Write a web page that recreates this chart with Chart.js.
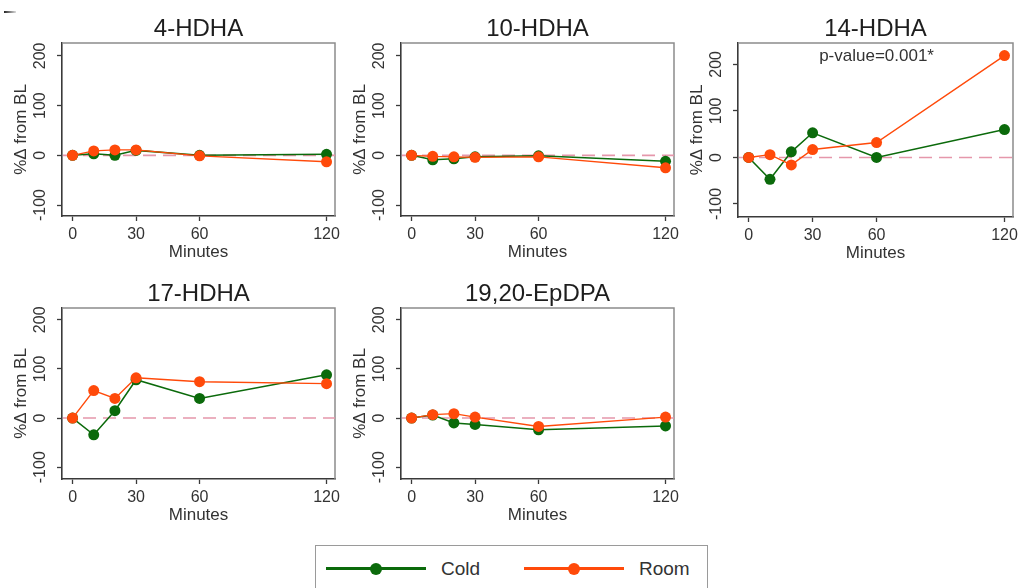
<!DOCTYPE html>
<html>
<head>
<meta charset="utf-8">
<script src="https://cdn.jsdelivr.net/npm/chart.js@4"></script>
<style>
  html, body { margin:0; padding:0; background:#fff; overflow:hidden; }
  body { width:1018px; height:588px; position:relative; font-family:'Liberation Sans', Arial, Helvetica, sans-serif; }
  canvas { position:absolute; }
  #legend { position:absolute; left:315px; top:545px; width:393px; height:60px; border:1.5px solid #9a9a9a; box-sizing:border-box; }
  .lg-line { position:absolute; height:3px; }
  .lg-dot { position:absolute; width:12px; height:12px; border-radius:50%; }
  .lg-text { position:absolute; font-size:19px; color:#333; line-height:19px; }
  #corner { position:absolute; left:4px; top:11px; width:12px; height:2px; background:linear-gradient(to right,#222,#ddd); }
</style>
</head>
<body>
<div id="corner"></div>
<canvas id="p1" width="345" height="266" style="left:0px;top:0px"></canvas>
<canvas id="p2" width="345" height="266" style="left:339px;top:0px"></canvas>
<canvas id="p3" width="347" height="267" style="left:676px;top:0px"></canvas>
<canvas id="p4" width="345" height="264" style="left:0px;top:265px"></canvas>
<canvas id="p5" width="345" height="264" style="left:339px;top:265px"></canvas>
<div id="legend"></div>
<script>
// ---- data ----
const minutes = [0, 10, 20, 30, 60, 120];
const xTicks = [0, 30, 60, 120];
const yTicks = [-100, 0, 100, 200];
const seriesNames = ['Cold', 'Room'];
const panelTitles = ['4-HDHA', '10-HDHA', '14-HDHA', '17-HDHA', '19,20-EpDPA'];

const cold_4HDHA = [0, 3, 0, 10, 0, 2];
const room_4HDHA = [0, 9, 11, 11, -1, -13];
const cold_10HDHA = [0, -9, -7, -3, -1, -12];
const room_10HDHA = [0, -2, -3, -4, -3, -25];
const cold_14HDHA = [0, -47, 12, 53, 0, 60];
const room_14HDHA = [0, 6, -16, 17, 32, 219];
const cold_17HDHA = [0, -34, 15, 78, 40, 88];
const room_17HDHA = [0, 56, 40, 82, 74, 70];
const cold_1920EpDPA = [0, 6, -10, -13, -24, -16];
const room_1920EpDPA = [0, 7, 9, 2, -17, 2];

const pValueNote = 'p-value=0.001*';

// ---- styles ----
const FONT = "'Liberation Sans', Arial, Helvetica, sans-serif";
const GREEN = '#0b6a0b';
const ORANGE = '#ff4a0a';
const AXIS = '#3a3a3a';
const FRAME = '#8c8c8c';
const ZERO = '#e597ab';

const framePlugin = {
  id: 'frameZero',
  beforeDatasetsDraw(chart, args, opts) {
    const { ctx, chartArea: a, scales } = chart;
    ctx.save();
    // light frame on top and right
    ctx.strokeStyle = FRAME; ctx.lineWidth = 1.5;
    ctx.beginPath(); ctx.moveTo(a.left, a.top); ctx.lineTo(a.right, a.top); ctx.lineTo(a.right, a.bottom); ctx.stroke();
    // dashed zero reference line
    const y0 = scales.y.getPixelForValue(0);
    ctx.strokeStyle = ZERO; ctx.lineWidth = 1.6; ctx.setLineDash([13, 7]);
    ctx.beginPath(); ctx.moveTo(a.left + 1, y0); ctx.lineTo(a.right, y0); ctx.stroke();
    ctx.setLineDash([]);
    // note
    if (opts && opts.text) {
      ctx.fillStyle = '#333'; ctx.font = '17px ' + FONT;
      ctx.textAlign = 'center'; ctx.textBaseline = 'middle';
      ctx.fillText(opts.text, scales.x.getPixelForValue(opts.x), scales.y.getPixelForValue(opts.y));
    }
    ctx.restore();
  }
};

function series(vals) { return minutes.map((m, i) => ({ x: m, y: vals[i] })); }

function makePanel(id, title, cold, room, yMin, yMax, note) {
  new Chart(document.getElementById(id), {
    type: 'line',
    data: {
      datasets: [
        { label: seriesNames[0], data: series(cold), borderColor: GREEN, backgroundColor: GREEN,
          pointBackgroundColor: GREEN, pointBorderColor: GREEN, pointRadius: 5.5, pointBorderWidth: 0,
          borderWidth: 1.5, tension: 0, order: 1 },
        { label: seriesNames[1], data: series(room), borderColor: ORANGE, backgroundColor: ORANGE,
          pointBackgroundColor: ORANGE, pointBorderColor: ORANGE, pointRadius: 5.5, pointBorderWidth: 0,
          borderWidth: 1.4, tension: 0, order: 0 }
      ]
    },
    options: {
      responsive: false, animation: false, devicePixelRatio: 1,
      layout: { padding: { left: 0, right: 10, top: 0, bottom: 0 } },
      plugins: {
        legend: { display: false }, tooltip: { enabled: false },
        title: { display: true, text: title, color: '#1e1e1e', fullSize: false,
          font: { family: FONT, size: 24, weight: 'normal', lineHeight: 1 },
          padding: { top: 17.5, bottom: 1.5 } },
        frameZero: note || {}
      },
      scales: {
        x: {
          type: 'linear', min: -5, max: 124,
          afterBuildTicks: s => { s.ticks = xTicks.map(v => ({ value: v })); },
          afterFit: s => { s.height = 50; },
          grid: { drawOnChartArea: false, drawTicks: true, tickLength: 5, tickColor: AXIS, tickWidth: 1.3 },
          border: { color: AXIS, width: 1.6 },
          ticks: { font: { family: FONT, size: 16 }, color: '#333', padding: 3.5, maxRotation: 0, autoSkip: false },
          title: { display: true, text: 'Minutes', color: '#333', font: { family: FONT, size: 17 }, padding: { top: 0, bottom: 3 } }
        },
        y: {
          type: 'linear', min: yMin, max: yMax,
          afterBuildTicks: s => { s.ticks = yTicks.map(v => ({ value: v })); },
          afterFit: s => { s.width = 62; },
          grid: { drawOnChartArea: false, drawTicks: true, tickLength: 5, tickColor: AXIS, tickWidth: 1.3 },
          border: { color: AXIS, width: 1.6 },
          ticks: { font: { family: FONT, size: 16 }, color: '#333', padding: 0, minRotation: 90, maxRotation: 90, crossAlign: 'center', autoSkip: false },
          title: { display: true, text: '%Δ from BL', color: '#333', font: { family: FONT, size: 17 }, padding: { top: 11.5, bottom: 0 } }
        }
      }
    },
    plugins: [framePlugin]
  });
}

makePanel('p1', panelTitles[0], cold_4HDHA, room_4HDHA, -122, 226);
makePanel('p2', panelTitles[1], cold_10HDHA, room_10HDHA, -122, 226);
makePanel('p3', panelTitles[2], cold_14HDHA, room_14HDHA, -128, 246, { text: pValueNote, x: 60, y: 217 });
makePanel('p4', panelTitles[3], cold_17HDHA, room_17HDHA, -124, 224);
makePanel('p5', panelTitles[4], cold_1920EpDPA, room_1920EpDPA, -124, 224);

// ---- legend ----
const legend = document.getElementById('legend');
const legendItems = [
  { name: seriesNames[0], color: GREEN, lineLeft: 10, textLeft: 125 },
  { name: seriesNames[1], color: ORANGE, lineLeft: 208, textLeft: 323 }
];
legendItems.forEach(it => {
  const line = document.createElement('div');
  line.className = 'lg-line';
  line.style.cssText = `left:${it.lineLeft}px;top:21px;width:100px;background:${it.color}`;
  const dot = document.createElement('div');
  dot.className = 'lg-dot';
  dot.style.cssText = `left:${it.lineLeft + 44}px;top:16.5px;background:${it.color}`;
  const txt = document.createElement('div');
  txt.className = 'lg-text';
  txt.style.cssText = `left:${it.textLeft}px;top:13px`;
  txt.textContent = it.name;
  legend.append(line, dot, txt);
});
</script>
</body>
</html>
